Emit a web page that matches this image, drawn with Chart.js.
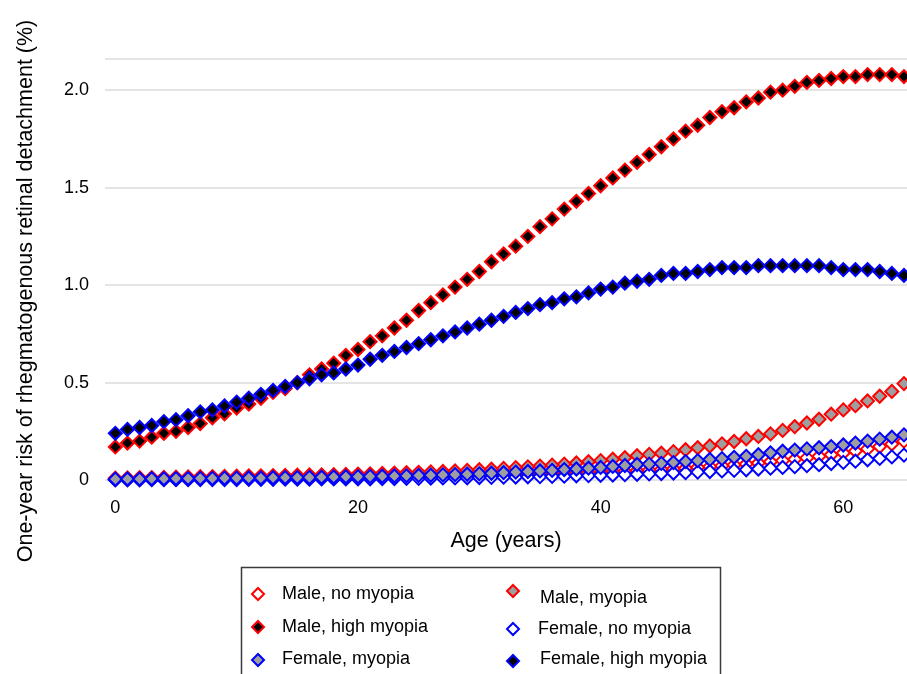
<!DOCTYPE html>
<html>
<head>
<meta charset="utf-8">
<script src="https://cdn.jsdelivr.net/npm/chart.js@4.4.1/dist/chart.umd.min.js"></script>
<style>
  html, body { margin: 0; padding: 0; background: #ffffff; }
  #wrap { width: 907px; height: 674px; position: relative; overflow: hidden; }
</style>
</head>
<body>
<div id="wrap"><canvas id="chart" width="907" height="674"></canvas></div>
<script>
// Age in years (one point per year of age)
const ages = [
  0, 1, 2, 3, 4, 5, 6, 7, 8, 9,
  10, 11, 12, 13, 14, 15, 16, 17, 18, 19,
  20, 21, 22, 23, 24, 25, 26, 27, 28, 29,
  30, 31, 32, 33, 34, 35, 36, 37, 38, 39,
  40, 41, 42, 43, 44, 45, 46, 47, 48, 49,
  50, 51, 52, 53, 54, 55, 56, 57, 58, 59,
  60, 61, 62, 63, 64, 65
];

// One-year risk of rhegmatogenous retinal detachment (%), by age
const maleNoMyopia = [
  0.004, 0.004, 0.005, 0.005, 0.006, 0.006, 0.007, 0.007, 0.008, 0.008,
  0.009, 0.009, 0.010, 0.010, 0.011, 0.011, 0.012, 0.012, 0.013, 0.013,
  0.014, 0.015, 0.015, 0.016, 0.017, 0.018, 0.019, 0.020, 0.021, 0.022,
  0.023, 0.024, 0.026, 0.027, 0.029, 0.030, 0.032, 0.034, 0.036, 0.038,
  0.040, 0.043, 0.045, 0.048, 0.051, 0.054, 0.057, 0.061, 0.065, 0.069,
  0.073, 0.078, 0.083, 0.088, 0.094, 0.100, 0.107, 0.114, 0.122, 0.130,
  0.139, 0.149, 0.160, 0.172, 0.185, 0.200
];
const maleMyopia = [
  0.010, 0.011, 0.012, 0.013, 0.014, 0.015, 0.016, 0.017, 0.018, 0.019,
  0.020, 0.021, 0.022, 0.023, 0.024, 0.025, 0.026, 0.027, 0.028, 0.029,
  0.031, 0.032, 0.034, 0.036, 0.038, 0.040, 0.042, 0.044, 0.047, 0.050,
  0.053, 0.056, 0.060, 0.064, 0.068, 0.072, 0.077, 0.082, 0.088, 0.094,
  0.100, 0.107, 0.115, 0.125, 0.132, 0.138, 0.146, 0.156, 0.166, 0.175,
  0.186, 0.198, 0.212, 0.224, 0.237, 0.255, 0.274, 0.293, 0.312, 0.338,
  0.360, 0.382, 0.406, 0.430, 0.455, 0.495
];
const maleHighMyopia = [
  0.17, 0.19, 0.20, 0.22, 0.24, 0.25, 0.27, 0.29, 0.32, 0.34,
  0.37, 0.39, 0.42, 0.45, 0.47, 0.50, 0.54, 0.57, 0.60, 0.64,
  0.67, 0.71, 0.74, 0.78, 0.82, 0.87, 0.91, 0.95, 0.99, 1.03,
  1.07, 1.12, 1.16, 1.20, 1.25, 1.30, 1.34, 1.39, 1.43, 1.47,
  1.51, 1.55, 1.59, 1.63, 1.67, 1.71, 1.75, 1.79, 1.82, 1.86,
  1.89, 1.91, 1.94, 1.96, 1.99, 2.00, 2.02, 2.04, 2.05, 2.06,
  2.07, 2.07, 2.08, 2.08, 2.08, 2.07
];
const femaleNoMyopia = [
  0.001, 0.001, 0.001, 0.002, 0.002, 0.002, 0.002, 0.003, 0.003, 0.003,
  0.003, 0.004, 0.004, 0.004, 0.005, 0.005, 0.005, 0.006, 0.006, 0.006,
  0.007, 0.007, 0.008, 0.008, 0.009, 0.009, 0.010, 0.011, 0.011, 0.012,
  0.013, 0.014, 0.015, 0.016, 0.017, 0.018, 0.019, 0.020, 0.022, 0.023,
  0.025, 0.026, 0.028, 0.030, 0.032, 0.034, 0.036, 0.038, 0.041, 0.044,
  0.047, 0.050, 0.053, 0.057, 0.061, 0.065, 0.069, 0.074, 0.079, 0.085,
  0.091, 0.097, 0.104, 0.111, 0.119, 0.128
];
const femaleMyopia = [
  0.005, 0.006, 0.006, 0.007, 0.007, 0.008, 0.008, 0.009, 0.009, 0.010,
  0.010, 0.011, 0.011, 0.012, 0.013, 0.013, 0.014, 0.015, 0.016, 0.017,
  0.018, 0.019, 0.020, 0.021, 0.022, 0.024, 0.025, 0.027, 0.028, 0.030,
  0.032, 0.035, 0.038, 0.041, 0.044, 0.047, 0.050, 0.054, 0.057, 0.061,
  0.065, 0.070, 0.075, 0.080, 0.082, 0.086, 0.090, 0.095, 0.100, 0.106,
  0.110, 0.117, 0.122, 0.130, 0.140, 0.148, 0.154, 0.160, 0.166, 0.172,
  0.180, 0.190, 0.200, 0.210, 0.220, 0.232
];
const femaleHighMyopia = [
  0.24, 0.26, 0.27, 0.28, 0.30, 0.31, 0.33, 0.35, 0.36, 0.38,
  0.40, 0.42, 0.44, 0.46, 0.48, 0.50, 0.52, 0.54, 0.55, 0.57,
  0.59, 0.62, 0.64, 0.66, 0.68, 0.70, 0.72, 0.74, 0.76, 0.78,
  0.80, 0.82, 0.84, 0.86, 0.88, 0.90, 0.91, 0.93, 0.94, 0.96,
  0.98, 0.99, 1.01, 1.02, 1.03, 1.05, 1.06, 1.06, 1.07, 1.08,
  1.09, 1.09, 1.09, 1.10, 1.10, 1.10, 1.10, 1.10, 1.10, 1.09,
  1.08, 1.08, 1.08, 1.07, 1.06, 1.05
];

const seriesLabels = [
  'Male, no myopia', 'Male, myopia', 'Male, high myopia',
  'Female, no myopia', 'Female, myopia', 'Female, high myopia'
];

// Axis ticks and range
const xTicks = [0, 20, 40, 60];
const yTicks = [0, 0.5, 1.0, 1.5, 2.0];
const xRange = [-0.85, 65.25];
const yTop = 2.16;

const FONT = "'Liberation Sans', Arial, sans-serif";
const RED = '#ff0000';
const BLUE = '#0000ff';
const GREY = '#9e9e9e';

function points(values) {
  return ages.map((a, i) => ({ x: a, y: values[i] }));
}

// Later series are painted over earlier ones
function series(index, values, border, fill) {
  return {
    label: seriesLabels[index],
    data: points(values),
    showLine: false,
    pointStyle: 'rectRot',
    pointRadius: 6.5,
    pointHoverRadius: 6.5,
    pointBorderWidth: 2,
    pointBorderColor: border,
    pointBackgroundColor: fill,
    borderColor: border,
    backgroundColor: fill,
    clip: false,
    order: seriesLabels.length - index
  };
}

const datasets = [
  series(0, maleNoMyopia, RED, '#ffffff'),
  series(1, maleMyopia, RED, GREY),
  series(2, maleHighMyopia, RED, '#000000'),
  series(3, femaleNoMyopia, BLUE, '#ffffff'),
  series(4, femaleMyopia, BLUE, GREY),
  series(5, femaleHighMyopia, BLUE, '#000000')
];

// Rotated y-axis title beside the tick labels
const yTitle = {
  id: 'yTitle',
  afterDraw(chart) {
    const ctx = chart.ctx;
    ctx.save();
    ctx.translate(26, 291);
    ctx.rotate(-Math.PI / 2);
    ctx.fillStyle = '#000000';
    ctx.font = "21.5px " + FONT;
    ctx.textAlign = 'center';
    ctx.textBaseline = 'middle';
    ctx.fillText('One-year risk of rhegmatogenous retinal detachment (%)', 0, 0);
    ctx.restore();
  }
};

// Boxed two-column legend under the axis title
const boxLegend = {
  id: 'boxLegend',
  afterDraw(chart) {
    const ctx = chart.ctx;
    // [marker x, marker y, text x, text y] for each dataset in order
    const slots = [
      [258, 594, 282, 594],
      [513, 591, 540, 598],
      [258, 627, 282, 627],
      [513, 629, 538, 629],
      [258, 660, 282, 659],
      [513, 661, 540, 659]
    ];
    ctx.save();
    ctx.strokeStyle = '#3a3a3a';
    ctx.lineWidth = 1.5;
    ctx.strokeRect(241.5, 567.5, 479, 130);
    chart.data.datasets.forEach((ds, i) => {
      const [mx, my, tx, ty] = slots[i];
      const r = 6;
      ctx.beginPath();
      ctx.moveTo(mx, my - r);
      ctx.lineTo(mx + r, my);
      ctx.lineTo(mx, my + r);
      ctx.lineTo(mx - r, my);
      ctx.closePath();
      ctx.fillStyle = ds.pointBackgroundColor;
      ctx.fill();
      ctx.lineWidth = 2;
      ctx.strokeStyle = ds.pointBorderColor;
      ctx.stroke();
      ctx.fillStyle = '#000000';
      ctx.font = "18px " + FONT;
      ctx.textAlign = 'left';
      ctx.textBaseline = 'middle';
      ctx.fillText(ds.label, tx, ty);
    });
    ctx.restore();
  }
};

new Chart(document.getElementById('chart'), {
  type: 'scatter',
  data: { datasets: datasets },
  plugins: [yTitle, boxLegend],
  options: {
    responsive: false,
    animation: false,
    devicePixelRatio: 1,
    layout: { autoPadding: false, padding: { left: 48, right: 0, top: 59, bottom: 120 } },
    plugins: {
      legend: { display: false },
      tooltip: { enabled: false }
    },
    scales: {
      x: {
        type: 'linear',
        min: xRange[0],
        max: xRange[1],
        afterBuildTicks: (axis) => { axis.ticks = xTicks.map(v => ({ value: v })); },
        grid: { display: false, drawTicks: false },
        border: { display: false },
        ticks: {
          padding: 17,
          color: '#000000',
          font: { family: FONT, size: 18 },
          maxRotation: 0,
          callback: (v) => String(v)
        },
        title: {
          display: true,
          text: 'Age (years)',
          color: '#000000',
          font: { family: FONT, size: 21.5 },
          padding: { top: -7.5, bottom: 0 }
        }
      },
      y: {
        type: 'linear',
        min: 0,
        max: yTop,
        afterBuildTicks: (axis) => { axis.ticks = yTicks.concat([yTop]).map(v => ({ value: v })); },
        grid: { color: '#e4e4e4', lineWidth: 2, drawTicks: false },
        border: { display: false },
        ticks: {
          padding: 16,
          color: '#000000',
          font: { family: FONT, size: 18 },
          callback: (v) => (v === yTop ? '' : (v === 0 ? '0' : v.toFixed(1)))
        }
      }
    }
  }
});
</script>
</body>
</html>
